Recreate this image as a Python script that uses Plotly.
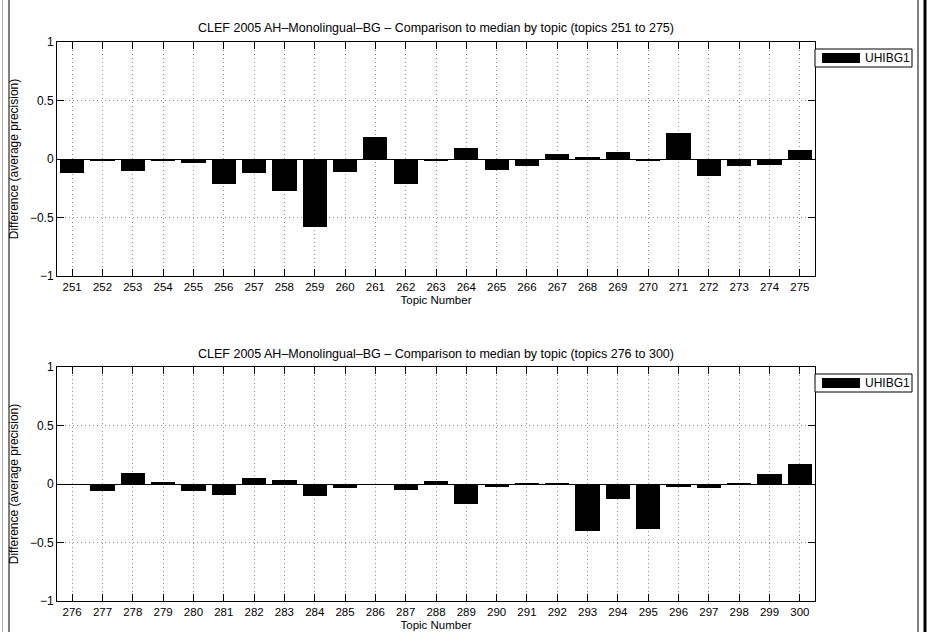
import plotly.graph_objects as go

topics_top = list(range(251, 276))
values_top = [-0.12, -0.02, -0.105, -0.017, -0.034, -0.217, -0.122, -0.276, -0.584, -0.114,
              0.19, -0.214, -0.009, 0.097, -0.097, -0.063, 0.046, 0.011, 0.063, -0.009,
              0.225, -0.148, -0.063, -0.048, 0.08]

topics_bottom = list(range(276, 301))
values_bottom = [-0.003, -0.063, 0.094, 0.011, -0.063, -0.097, 0.051, 0.034, -0.105, -0.037,
                 -0.005, -0.054, 0.028, -0.168, -0.023, 0.006, 0.002, -0.405, -0.128, -0.387,
                 -0.028, -0.031, 0.006, 0.088, 0.171]

series_name = "UHIBG1"
title_top = "CLEF 2005 AH\u2013Monolingual\u2013BG \u2013 Comparison to median by topic (topics 251 to 275)"
title_bottom = "CLEF 2005 AH\u2013Monolingual\u2013BG \u2013 Comparison to median by topic (topics 276 to 300)"
y_ticks = [-1, -0.5, 0, 0.5, 1]
y_ticktext = ["\u22121", "\u22120.5", "0", "0.5", "1"]

FONT = "Liberation Sans, Arial, Helvetica, sans-serif"
FS = 12
TFS = 11.5
W, H = 927, 632
ML, MR, MT, MB = 57, 112, 42, 31
PW = W - ML - MR
PH = H - MT - MB


def px(x):
    return (x - ML) / PW


def py(y):
    return (H - MB - y) / PH


fig = go.Figure()
fig.add_trace(go.Bar(x=topics_top, y=values_top, name=series_name, width=0.8,
                     marker=dict(color="black", line=dict(width=0)),
                     xaxis="x", yaxis="y", showlegend=False))
fig.add_trace(go.Bar(x=topics_bottom, y=values_bottom, name=series_name, width=0.8,
                     marker=dict(color="black", line=dict(width=0)),
                     xaxis="x2", yaxis="y2", showlegend=False))

top_dom = [py(276), 1.0]
bot_dom = [0.0, py(367)]

GRID = dict(showgrid=True, gridcolor="#909090", griddash="1px,3px", gridwidth=1)

common_x = dict(showline=True, linecolor="black", linewidth=1, mirror="ticks",
                ticks="inside", ticklen=7, tickcolor="black", tickwidth=1,
                zeroline=False, tickfont=dict(family=FONT, size=TFS, color="black"),
                dtick=1, tickmode="linear",
                title=dict(text="Topic Number", font=dict(family=FONT, size=TFS, color="black"),
                           standoff=4), **GRID)
common_y = dict(showline=True, linecolor="black", linewidth=1, mirror="ticks",
                ticks="inside", ticklen=7, tickcolor="black", tickwidth=1,
                zeroline=True, zerolinecolor="black", zerolinewidth=1,
                range=[-1, 1], tickvals=y_ticks, ticktext=y_ticktext,
                tickfont=dict(family=FONT, size=FS, color="black"),
                title=dict(text="Difference (average precision)",
                           font=dict(family=FONT, size=FS, color="black"), standoff=8), **GRID)

fig.update_layout(
    width=W, height=H,
    margin=dict(l=ML, r=MR, t=MT, b=MB, autoexpand=False),
    paper_bgcolor="white", plot_bgcolor="white",
    bargap=0,
    xaxis=dict(domain=[0, 1], anchor="y", range=[250.5, 275.5], **common_x),
    yaxis=dict(domain=top_dom, anchor="x", **common_y),
    xaxis2=dict(domain=[0, 1], anchor="y2", range=[275.5, 300.5], **common_x),
    yaxis2=dict(domain=bot_dom, anchor="x2", **common_y),
    font=dict(family=FONT, size=FS, color="black"),
)

# subplot titles
for title, ypix in [(title_top, 28), (title_bottom, 354)]:
    fig.add_annotation(text=title, x=0.5, y=py(ypix), xref="paper", yref="paper",
                       showarrow=False, xanchor="center", yanchor="middle",
                       font=dict(family=FONT, size=12.5, color="black"))

# legends (MATLAB style boxes)
for top_px in [49, 374]:
    fig.add_shape(type="rect", xref="paper", yref="paper",
                  x0=px(815), x1=px(912), y0=py(top_px), y1=py(top_px + 18),
                  line=dict(color="black", width=1), fillcolor="white")
    fig.add_shape(type="rect", xref="paper", yref="paper",
                  x0=px(822), x1=px(860), y0=py(top_px + 4), y1=py(top_px + 14),
                  line=dict(color="black", width=0), fillcolor="black")
    fig.add_annotation(text=series_name, x=px(863), y=py(top_px + 9), xref="paper", yref="paper",
                       showarrow=False, xanchor="left", yanchor="middle",
                       font=dict(family=FONT, size=FS, color="black"))

# page edge lines
fig.add_shape(type="line", xref="paper", yref="paper", x0=px(2.5), x1=px(2.5),
              y0=py(0), y1=py(H), line=dict(color="#b0b0b0", width=1))
fig.add_shape(type="line", xref="paper", yref="paper", x0=px(9), x1=px(9),
              y0=py(0), y1=py(H), line=dict(color="black", width=1))
fig.add_shape(type="line", xref="paper", yref="paper", x0=px(918), x1=px(918),
              y0=py(0), y1=py(H), line=dict(color="black", width=1))
fig.add_shape(type="line", xref="paper", yref="paper", x0=px(925), x1=px(925),
              y0=py(0), y1=py(H), line=dict(color="black", width=3))

fig.write_html("out.html", config={"displayModeBar": False},
               post_script="document.body.style.margin='0';")
